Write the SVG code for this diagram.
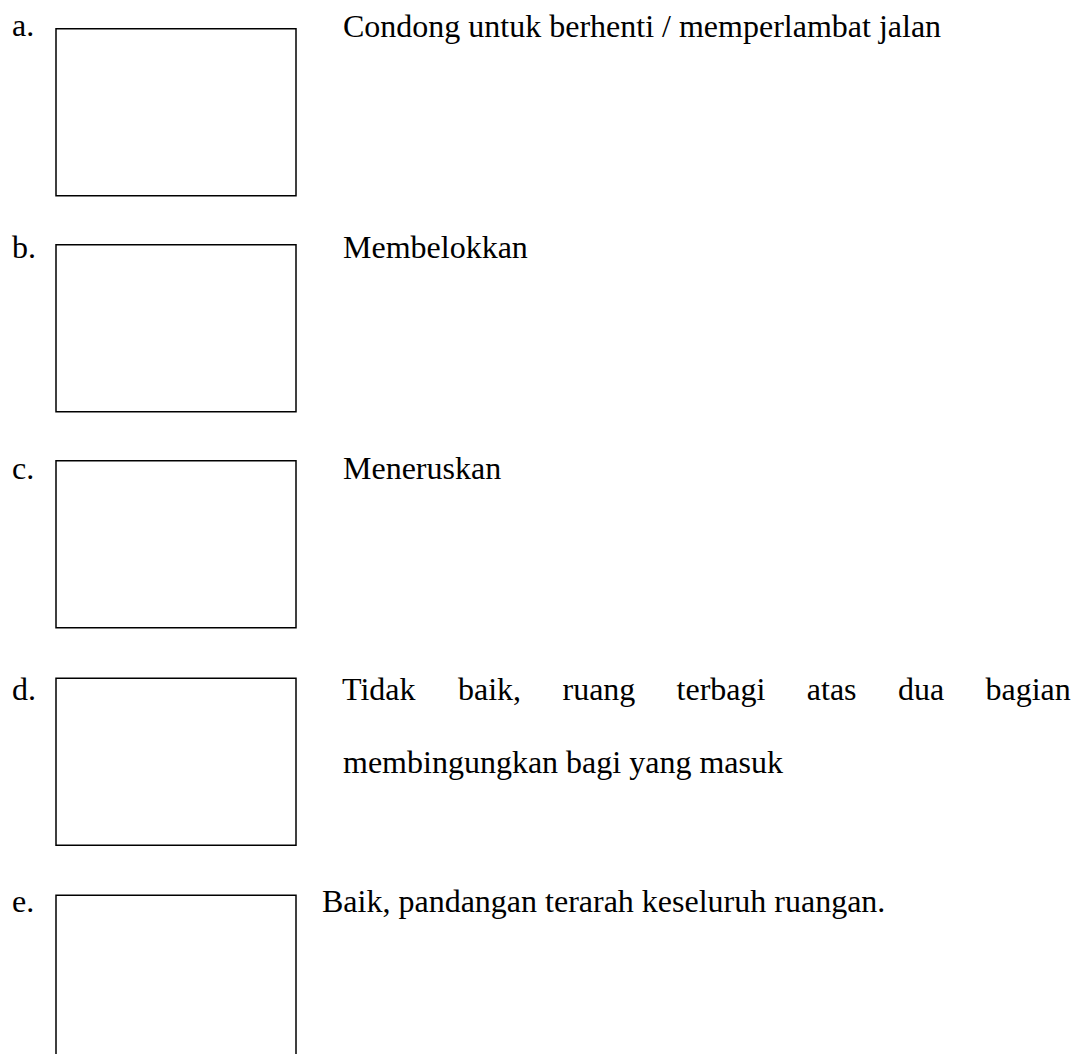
<svg xmlns="http://www.w3.org/2000/svg" width="1082" height="1054" viewBox="0 0 1082 1054">
  <style>
    .box { fill: #ffffff; stroke: #000000; stroke-width: 1.5; }
    .t { font-family: "Liberation Serif", "Times New Roman", serif; font-size: 32px; fill: #000000; }
  </style>
  <rect x="0" y="0" width="1082" height="1054" fill="#ffffff"/>

  <g id="item-a">
    <text class="t" x="12" y="36">a.</text>
    <rect class="box" x="56" y="28.75" width="240" height="167"/>
    <text class="t" x="343" y="37">Condong untuk berhenti / memperlambat jalan</text>
  </g>

  <g id="item-b">
    <text class="t" x="12" y="258">b.</text>
    <rect class="box" x="56" y="244.75" width="240" height="167"/>
    <text class="t" x="343" y="258">Membelokkan</text>
  </g>

  <g id="item-c">
    <text class="t" x="12" y="479">c.</text>
    <rect class="box" x="56" y="460.75" width="240" height="167"/>
    <text class="t" x="343" y="479">Meneruskan</text>
  </g>

  <g id="item-d">
    <text class="t" x="12" y="700">d.</text>
    <rect class="box" x="56" y="678.25" width="240" height="167"/>
    <text class="t" y="700"><tspan x="342">Tidak</tspan><tspan x="458">baik,</tspan><tspan x="562.5">ruang</tspan><tspan x="676.6">terbagi</tspan><tspan x="806.8">atas</tspan><tspan x="898">dua</tspan><tspan x="985.5">bagian</tspan></text>
    <text class="t" x="343" y="773">membingungkan bagi yang masuk</text>
  </g>

  <g id="item-e">
    <text class="t" x="12" y="912">e.</text>
    <rect class="box" x="56" y="895.25" width="240" height="200"/>
    <text class="t" x="322" y="912">Baik, pandangan terarah keseluruh ruangan.</text>
  </g>

  <g id="connectors"></g>
</svg>
